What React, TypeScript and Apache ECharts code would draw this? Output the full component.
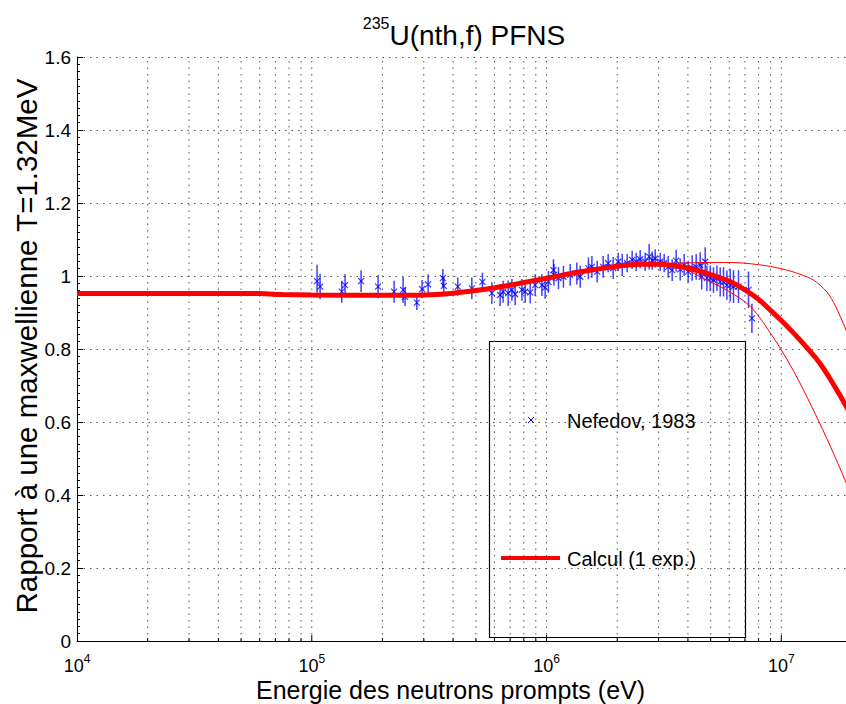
import React, { useEffect, useRef } from "react";
import * as echarts from "echarts";

const FONT = "'Liberation Sans', Arial, Helvetica, sans-serif";

// Energies (eV) of the Nefedov (1983) points, ratio values and uncertainties
const nefE = [
  1.053e5, 1.085e5, 1.342e5, 1.386e5, 1.622e5, 1.916e5, 2.242e5, 2.449e5, 2.497e5, 2.802e5, 2.951e5, 3.13e5, 3.616e5, 3.65e5,
  4.188e5, 4.805e5, 5.333e5, 5.848e5, 6.343e5, 6.533e5, 6.862e5, 7.116e5, 7.349e5, 7.85e5, 8.108e5, 8.515e5, 8.943e5, 9.55e5,
  9.863e5, 1.019e6, 1.07e6, 1.075e6, 1.124e6, 1.18e6, 1.261e6, 1.346e6, 1.391e6, 1.508e6, 1.56e6,
  1.643e6, 1.742e6, 1.83e6, 1.922e6, 2.019e6, 2.1e6, 2.205e6, 2.315e6, 2.408e6, 2.505e6, 2.631e6, 2.736e6, 2.818e6, 2.902e6,
  3.048e6, 3.17e6, 3.297e6, 3.428e6, 3.566e6, 3.709e6, 3.857e6, 4.011e6, 4.172e6, 4.339e6,
  4.513e6, 4.58e6, 4.74e6, 4.82e6, 4.977e6, 5.141e6, 5.316e6, 5.491e6, 5.672e6, 5.864e6, 6.057e6, 6.256e6, 6.571e6, 7.248e6, 7.494e6,
];
const nefY = [
  0.986, 0.971, 0.957, 0.975, 0.986, 0.971, 0.957, 0.962, 0.943, 0.927, 0.964, 0.977, 0.994, 0.973,
  0.971, 0.966, 0.984, 0.953, 0.948, 0.957, 0.953, 0.962, 0.95, 0.962, 0.957, 0.955, 0.975, 0.975,
  0.968, 0.984, 1.016, 1.003, 0.994, 0.998, 1.003, 1.007, 0.998, 1.021, 1.025,
  1.012, 1.025, 1.035, 1.022, 1.039, 1.03, 1.035, 1.044, 1.039, 1.046, 1.039, 1.053, 1.042, 1.048,
  1.039, 1.035, 1.025, 1.016, 1.042, 1.018, 1.03, 1.012, 1.022, 1.025,
  1.03, 0.998, 1.039, 0.994, 0.994, 0.989, 0.994, 0.984, 0.984, 0.975, 0.975, 0.971, 0.971, 0.962, 0.884,
];
const nefErr = [
  0.045, 0.035, 0.03, 0.03, 0.03, 0.032, 0.03, 0.035, 0.025, 0.02, 0.025, 0.028, 0.025, 0.025,
  0.025, 0.03, 0.025, 0.03, 0.03, 0.03, 0.035, 0.03, 0.03, 0.03, 0.03, 0.03, 0.03, 0.03,
  0.03, 0.03, 0.03, 0.03, 0.03, 0.03, 0.03, 0.03, 0.03, 0.03, 0.03,
  0.03, 0.03, 0.025, 0.03, 0.025, 0.03, 0.025, 0.025, 0.025, 0.025, 0.025, 0.035, 0.025, 0.025,
  0.025, 0.025, 0.03, 0.03, 0.03, 0.03, 0.03, 0.03, 0.035, 0.035,
  0.035, 0.035, 0.04, 0.035, 0.035, 0.035, 0.035, 0.04, 0.04, 0.04, 0.045, 0.045, 0.045, 0.05, 0.04,
];

// Calculation (1 exp.) – central curve
const calcE = [
  1e4, 3e4, 6e4, 7.5e4, 1e5, 2e5, 3e5, 4e5, 5e5, 6e5, 7e5, 8e5, 1e6, 1.3e6, 1.6e6, 2e6, 2.5e6, 3e6, 3.5e6, 4e6, 4.5e6, 5e6,
  5.5e6, 6e6, 7e6, 8e6, 9e6, 1e7, 1.1e7, 1.2e7, 1.3e7, 1.4e7, 1.5e7, 1.6e7, 1.7e7, 1.8e7, 1.9e7, 2e7,
];
const calcY = [
  0.952, 0.952, 0.952, 0.949, 0.948, 0.947, 0.948, 0.953, 0.96, 0.968, 0.975, 0.982, 0.994, 1.008, 1.018, 1.027, 1.032,
  1.032, 1.028, 1.022, 1.013, 1.004, 0.995, 0.986, 0.962, 0.936, 0.906, 0.878, 0.851, 0.825, 0.8, 0.776, 0.75, 0.722,
  0.694, 0.667, 0.64, 0.615,
];
// Upper and lower envelopes
const upperE = [3e6, 4e6, 5e6, 6e6, 7e6, 8e6, 9e6, 1e7, 1.1e7, 1.2e7, 1.37e7, 1.56e7, 1.7e7, 1.87e7, 2e7];
const upperY = [1.033, 1.036, 1.037, 1.037, 1.035, 1.031, 1.026, 1.02, 1.013, 1.005, 0.989, 0.957, 0.918, 0.858, 0.81];
const lowerE = [3e6, 4e6, 4.5e6, 5.9e6, 7.4e6, 9.2e6, 1.06e7, 1.2e7, 1.4e7, 1.6e7, 1.89e7, 2e7];
const lowerY = [1.033, 1.015, 0.998, 0.96, 0.916, 0.834, 0.77, 0.707, 0.62, 0.54, 0.433, 0.39];

// Vertical grid / tick positions on the log axis
const xGridValues = [
  2e4, 3e4, 4e4, 5e4, 6e4, 7e4, 8e4, 9e4, 1e5, 2e5, 3e5, 4e5, 5e5, 6e5, 7e5, 8e5, 9e5, 1e6, 2e6, 3e6, 4e6, 5e6, 6e6, 7e6,
  8e6, 9e6, 1e7,
];

const legendNames = ["Nefedov, 1983", "Calcul (1 exp.)"];

export default function App() {
  const ref = useRef<HTMLDivElement>(null);
  useEffect(() => {
    if (!ref.current) return;
    const chart = echarts.init(ref.current, undefined, { renderer: "svg" });
    const isDecade = (v: number) => Math.abs(Math.log10(v) - Math.round(Math.log10(v))) < 1e-6;

    const option: any = {
      animation: false,
      backgroundColor: "#fff",
      title: {
        text: "{s|235}{m|U(nth,f) PFNS}",
        left: 464,
        top: 15,
        textAlign: "center",
        padding: 0,
        textStyle: {
          fontWeight: "normal",
          rich: {
            s: { fontSize: 16, lineHeight: 14, verticalAlign: "top", fontFamily: FONT, color: "#000", fontWeight: "normal" },
            m: { fontSize: 28, lineHeight: 40, fontFamily: FONT, color: "#000", fontWeight: "normal" },
          },
        },
      },
      grid: { left: 77, width: 775, top: 57, height: 584, containLabel: false, outerBoundsMode: "none" },
      xAxis: {
        type: "log",
        logBase: 10,
        min: 1e4,
        max: 2e7,
        axisLine: { show: true, lineStyle: { color: "#000", width: 1 } },
        axisTick: { show: false },
        minorTick: { show: false },
        splitLine: { show: false },
        axisLabel: {
          margin: 12,
          formatter: (v: number) => {
            if (!isDecade(v)) return "";
            return `{b|10}{s|${Math.round(Math.log10(v))}}`;
          },
          rich: {
            b: { fontSize: 18, lineHeight: 26, fontFamily: FONT, color: "#000" },
            s: { fontSize: 12, lineHeight: 4, verticalAlign: "top", fontFamily: FONT, color: "#000" },
          },
        },
        name: "Energie des neutrons prompts (eV)",
        nameLocation: "middle",
        nameGap: 38,
        nameMoveOverlap: false,
        nameTextStyle: { fontSize: 25, lineHeight: 22, fontFamily: FONT, color: "#000", padding: [0, 28, 0, 0] },
      },
      yAxis: {
        type: "value",
        min: 0,
        max: 1.6,
        interval: 0.2,
        axisLine: { show: true, lineStyle: { color: "#000", width: 1 } },
        axisTick: { show: true, inside: true, length: 6, lineStyle: { color: "#000" } },
        minorTick: { show: true, splitNumber: 10, length: 3, lineStyle: { color: "#000" } },
        splitLine: { show: true, lineStyle: { color: "#555", width: 1, type: [1.5, 5] } },
        axisLabel: { fontSize: 19, fontFamily: FONT, color: "#000", margin: 6 },
        name: "Rapport à une maxwellienne T=1.32MeV",
        nameLocation: "middle",
        nameGap: 36,
        nameMoveOverlap: false,
        nameTextStyle: { fontSize: 29.5, fontFamily: FONT, color: "#000", padding: [0, 0, 0, 6] },
      },
      series: [
        {
          type: "custom",
          name: "grid",
          silent: true,
          z: 1,
          data: xGridValues.map((v) => [v, 0]),
          renderItem: (_p: any, api: any) => {
            const v = api.value(0);
            const b = api.coord([v, 0]);
            const t = api.coord([v, 1.6]);
            const len = isDecade(v) ? 6 : 3;
            return {
              type: "group",
              children: [
                {
                  type: "line",
                  shape: { x1: b[0], y1: b[1], x2: t[0], y2: t[1] },
                  style: { stroke: "#555", lineWidth: 1, lineDash: [1.5, 5] },
                },
                {
                  type: "line",
                  shape: { x1: b[0], y1: b[1], x2: b[0], y2: b[1] - len },
                  style: { stroke: "#000", lineWidth: 1 },
                },
              ],
            };
          },
        },
        {
          type: "custom",
          name: "errorbars",
          silent: true,
          z: 2,
          data: nefE.map((e, i) => [e, nefY[i] - nefErr[i], nefY[i] + nefErr[i]]),
          encode: { x: 0, y: [1, 2] },
          renderItem: (_p: any, api: any) => {
            const x = api.value(0);
            const a = api.coord([x, api.value(1)]);
            const b = api.coord([x, api.value(2)]);
            return {
              type: "line",
              shape: { x1: a[0], y1: a[1], x2: b[0], y2: b[1] },
              style: { stroke: "#0000ff", lineWidth: 1.5, opacity: 0.75 },
            };
          },
        },
        {
          type: "scatter",
          name: legendNames[0],
          z: 3,
          data: nefE.map((e, i) => [e, nefY[i]]),
          symbol: "path://M0,0L10,10M10,0L0,10",
          symbolSize: 6,
          itemStyle: { color: "rgba(0,0,0,0)", borderColor: "#0000ff", borderWidth: 1.2 },
        },
        {
          type: "line",
          name: "upper",
          z: 4,
          data: upperE.map((e, i) => [e, upperY[i]]),
          showSymbol: false,
          smooth: 0.3,
          lineStyle: { color: "#ff0000", width: 1 },
        },
        {
          type: "line",
          name: "lower",
          z: 4,
          data: lowerE.map((e, i) => [e, lowerY[i]]),
          showSymbol: false,
          smooth: 0.3,
          lineStyle: { color: "#ff0000", width: 1 },
        },
        {
          type: "line",
          name: legendNames[1],
          z: 5,
          data: calcE.map((e, i) => [e, calcY[i]]),
          showSymbol: false,
          smooth: 0.2,
          lineStyle: { color: "#ff0000", width: 5 },
        },
      ],
      graphic: [
        {
          type: "group",
          z: 100,
          children: [
            {
              type: "rect",
              shape: { x: 489.5, y: 341.5, width: 256, height: 296 },
              style: { fill: "#fff", stroke: "#000", lineWidth: 1.2 },
            },
            { type: "line", shape: { x1: 528, y1: 417, x2: 534, y2: 423 }, style: { stroke: "#0000ff", lineWidth: 1 } },
            { type: "line", shape: { x1: 534, y1: 417, x2: 528, y2: 423 }, style: { stroke: "#0000ff", lineWidth: 1 } },
            {
              type: "text",
              x: 567,
              y: 421,
              style: { text: legendNames[0], fontSize: 20, fontFamily: FONT, fill: "#000", verticalAlign: "middle" },
            },
            { type: "line", shape: { x1: 501, y1: 558, x2: 560, y2: 558 }, style: { stroke: "#ff0000", lineWidth: 4 } },
            {
              type: "text",
              x: 567,
              y: 559,
              style: { text: legendNames[1], fontSize: 20, fontFamily: FONT, fill: "#000", verticalAlign: "middle" },
            },
          ],
        },
      ],
    };
    chart.setOption(option);
    return () => chart.dispose();
  }, []);
  return <div ref={ref} style={{ position: "absolute", left: 0, top: 0, width: 846, height: 704 }} />;
}
